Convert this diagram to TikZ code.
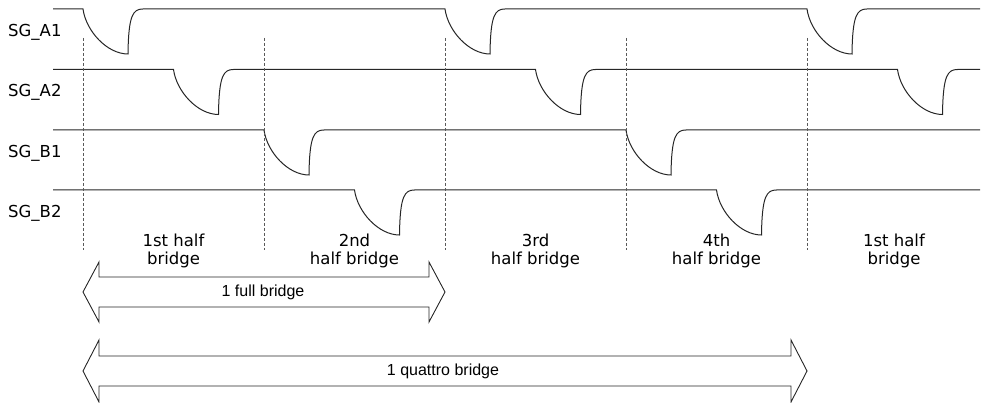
\documentclass[tikz,border=0pt]{standalone}
\usepackage{fontspec}
\setmainfont{DejaVu Sans}
\newfontfamily\arialfont{Liberation Sans}
\begin{document}
\begin{tikzpicture}[x=1pt,y=-1pt,
    signal/.style={line width=1pt,draw=black!85},
    divider/.style={line width=0.9pt,draw=black!65,dash pattern=on 3pt off 2pt},
    spanarrow/.style={line width=0.9pt,draw=black!85,line join=miter},
    siglabel/.style={anchor=west,inner sep=0pt,font=\fontsize{16.5}{18}\selectfont},
    phase/.style={align=center,inner sep=0pt,font=\fontsize{16.5}{18}\selectfont},
    spanlabel/.style={inner sep=0pt,font=\arialfont\fontsize{16}{18}\selectfont}]
    \useasboundingbox (0,0) rectangle (982,403);
    %% Signals
    \foreach \H/\name/\plist in {9/A1/{83,445,807},69.5/A2/{173.5,535.5,897.5},130/B1/{264,626},190/B2/{354.5,716.5}} {
        \draw[signal] (53,\H) \foreach \p in \plist {
            -- (\p,\H) .. controls (\p+3,\H+22) and (\p+24,\H+45) .. (\p+45,\H+45)
            .. controls (\p+45.5,\H+6) and (\p+50,\H) .. (\p+60,\H)} -- (980,\H);
        \node[siglabel] (lbl\name) at (8,\H+23) {SG\_\name};
    }
    %% Half bridge borders
    \foreach \x in {83,264,445,626,807}
        \draw[divider] (\x,38) -- (\x,250);
    \foreach \x/\txt [count=\i] in {173.5/{1st half\\bridge},354.5/{2nd\\half bridge},535.5/{3rd\\half bridge},716.5/{4th\\half bridge},894/{1st half\\bridge}}
        \node[phase] (phase\i) at (\x,251) {\txt};
    %% Full bridge
    \draw[spanarrow] (83,292) -- (99,262) -- (99,277) -- (429,277) -- (429,262) -- (445,292)
        -- (429,322) -- (429,307) -- (99,307) -- (99,322) -- cycle;
    \node[spanlabel] (full) at (263,292) {1 full bridge};
    %% Quattro bridge
    \draw[spanarrow] (83,371) -- (99,340) -- (99,356) -- (791,356) -- (791,340) -- (807,371)
        -- (791,402) -- (791,386) -- (99,386) -- (99,402) -- cycle;
    \node[spanlabel] (quattro) at (443,371) {1 quattro bridge};
\end{tikzpicture}
\end{document}
